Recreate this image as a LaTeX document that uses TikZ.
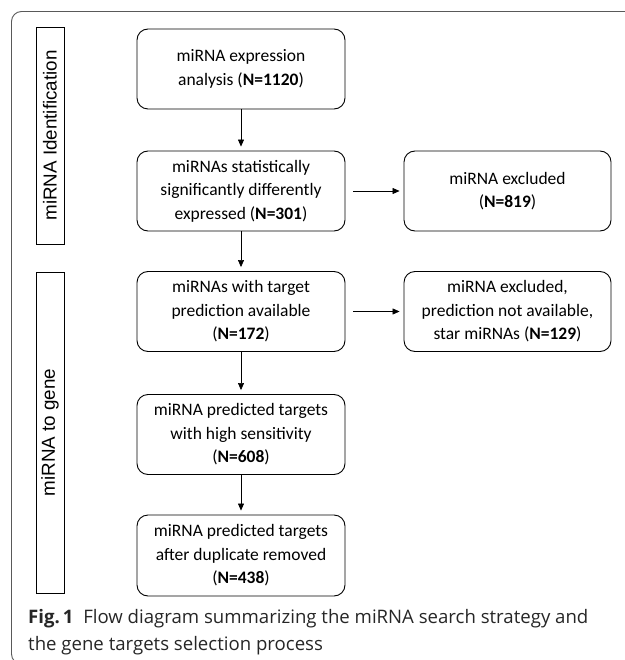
\documentclass[tikz,border=0pt]{standalone}
\usepackage{fontspec}
\setmainfont{Carlito}
\newfontfamily\arialf{Liberation Sans}
\newfontfamily\capf{Open Sans}
\usetikzlibrary{arrows.meta}
\begin{document}
\begin{tikzpicture}[x=1pt,y=-1pt,
  flowbox/.style={draw=black, line width=0.9pt, rounded corners=11pt, align=center,
    minimum width=208pt, minimum height=80pt, inner sep=2pt,
    font=\fontsize{17.5}{23.5}\selectfont},
  labbox/.style={draw=black, line width=0.7pt, minimum height=28pt, inner sep=0pt,
    rotate=90, font=\arialf\fontsize{18.8}{22}\selectfont},
  arr/.style={-{Triangle[length=7pt,width=6pt]}, line width=0.6pt},
  framec/.style={draw=black!65, line width=0.9pt, rounded corners=10pt}]
\useasboundingbox (0,0) rectangle (624,660);
\draw[framec] (11.5,664) rectangle (720,11.5);
% left stage labels
\node[labbox, minimum width=217pt] (l1) at (50,135.5) {miRNA Identification};
\node[labbox, minimum width=321pt] (l2) at (50,432.5) {miRNA to gene};
% main column
\node[flowbox] (b1) at (241,69) {miRNA expression\\analysis (\textbf{N=1120})};
\node[flowbox] (b2) at (241,191) {miRNAs statistically\\significantly differently\\expressed (\textbf{N=301})};
\node[flowbox] (b4) at (241,311.5) {miRNAs with target\\prediction available\\(\textbf{N=172})};
\node[flowbox] (b6) at (241,434.5) {miRNA predicted targets\\with high sensitivity\\(\textbf{N=608})};
\node[flowbox, minimum height=81pt] (b7) at (241,555.5) {miRNA predicted targets\\after duplicate removed\\(\textbf{N=438})};
% right column
\node[flowbox, minimum width=207pt] (b3) at (507.5,191) {miRNA excluded\\(\textbf{N=819})};
\node[flowbox, minimum width=207pt] (b5) at (507.5,311.5) {miRNA excluded,\\prediction not available,\\star miRNAs (\textbf{N=129})};
% connectors
\draw[arr, shorten >=4pt] (b1) -- (b2);
\draw[arr, shorten >=4pt] (b2) -- (b4);
\draw[arr, shorten >=4pt] (b4) -- (b6);
\draw[arr, shorten >=4pt] (b6) -- (b7);
\draw[arr, shorten <=8pt, shorten >=4pt] (b2) -- (b3);
\draw[arr, shorten <=8pt, shorten >=4pt] (b4) -- (b5);
% caption
\node[anchor=base west, inner sep=0pt, align=left, font=\capf\fontsize{18.6}{27}\selectfont, text=black!85] (cap) at (28,650)
  {{\bfseries Fig.\,1}\ \ Flow diagram summarizing the miRNA search strategy and\\the gene targets selection process};
\end{tikzpicture}
\end{document}
